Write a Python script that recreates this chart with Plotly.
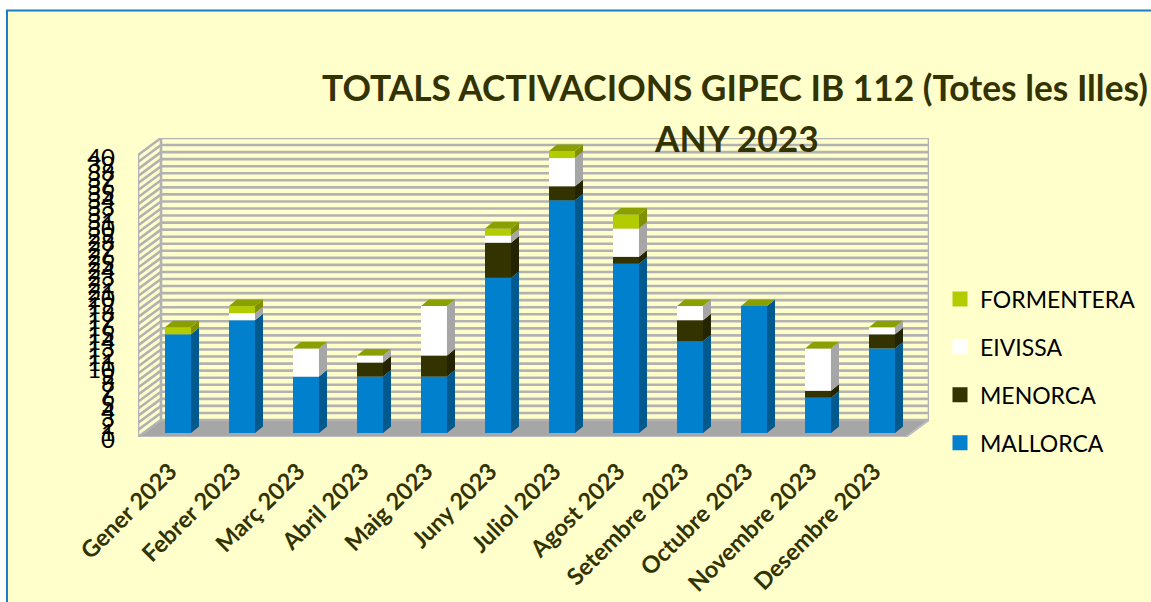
import plotly.graph_objects as go

months = ["Gener 2023", "Febrer 2023", "Març 2023", "Abril 2023", "Maig 2023", "Juny 2023",
          "Juliol 2023", "Agost 2023", "Setembre 2023", "Octubre 2023", "Novembre 2023", "Desembre 2023"]
mallorca = [14, 16, 8, 8, 8, 22, 33, 24, 13, 18, 5, 12]
menorca = [0, 0, 0, 2, 3, 5, 2, 1, 3, 0, 1, 2]
eivissa = [0, 1, 4, 1, 7, 1, 4, 4, 2, 0, 6, 1]
formentera = [1, 1, 0, 0, 0, 1, 1, 2, 0, 0, 0, 0]
y_ticks = list(range(0, 41))

series = [
    ("MALLORCA", mallorca, "#0180CE", "#005A8F"),
    ("MENORCA", menorca, "#333300", "#242400"),
    ("EIVISSA", eivissa, "#FFFFFF", "#A6A6A6"),
    ("FORMENTERA", formentera, "#B3CC00", "#7F9000"),
]
TOP_COLOR = "#8AA000"
GRID = "#B2B2B2"
BG = "#FFFFCC"
FONT = "Lato"
TEXT = "#333300"

# page layout in pixels
W, H = 1151, 602
L, R, T, B = 138, 222, 138, 165
PW, PH = W - L - R, H - T - B
PX_X = 64.0
PX_Y = 7.05
# oblique projection of the 3D box, in axis units
WALL_DX, WALL_DY = 23 / PX_X, 17 / PX_Y
BAR_W = 26 / PX_X
BAR_SHIFT = 8 / PX_X
BAR_BASE = 4 / PX_Y
BAR_DX, BAR_DY = 8 / PX_X, 6.5 / PX_Y
X0, X1 = -0.5, len(months) - 0.5
LABEL_SHIFT = 0 / PX_X


def px(x):
    return (x - L) / PW


def py(y):
    return 1 - (y - T) / PH


def path(points):
    xs, ys = [], []
    for a, b in points:
        xs.append(a)
        ys.append(b)
    xs.append(None)
    ys.append(None)
    return xs, ys


fig = go.Figure()

# floor
fig.add_trace(go.Scatter(
    x=[X0, X1, X1 + WALL_DX, X0 + WALL_DX, X0], y=[0, 0, WALL_DY, WALL_DY, 0],
    mode="lines", fill="toself", fillcolor="#A6A6A6", line=dict(color="#BDBDBD", width=2),
    showlegend=False, hoverinfo="skip", cliponaxis=False, zorder=0))

# walls and gridlines
gx, gy = [], []
for v in y_ticks:
    a, b = path([(X0, v), (X0 + WALL_DX, v + WALL_DY), (X1 + WALL_DX, v + WALL_DY)])
    gx += a
    gy += b
for xv, y0, y1 in [(X0, 0, 40), (X0 + WALL_DX, WALL_DY, 40 + WALL_DY), (X1 + WALL_DX, WALL_DY, 40 + WALL_DY)]:
    a, b = path([(xv, y0), (xv, y1)])
    gx += a
    gy += b
fig.add_trace(go.Scatter(x=gx, y=gy, mode="lines", line=dict(color=GRID, width=2.6),
                         showlegend=False, hoverinfo="skip", cliponaxis=False, zorder=1))

# stacked fronts (real bars), side faces and tops derived from the same values
cum = [0] * len(months)
for name, vals, front, side in series:
    fig.add_trace(go.Bar(
        x=[i + BAR_SHIFT for i in range(len(months))], y=vals,
        base=[c + BAR_BASE for c in cum], width=BAR_W,
        marker=dict(color=front, line=dict(width=0)), name=name, showlegend=False, zorder=2))
    sx, sy = [], []
    for i, v in enumerate(vals):
        if v == 0:
            continue
        xr = i + BAR_SHIFT + BAR_W / 2
        b0 = cum[i] + BAR_BASE
        a, b = path([(xr, b0), (xr + BAR_DX, b0 + BAR_DY), (xr + BAR_DX, b0 + v + BAR_DY), (xr, b0 + v), (xr, b0)])
        sx += a
        sy += b
    fig.add_trace(go.Scatter(x=sx, y=sy, mode="lines", fill="toself", fillcolor=side, line=dict(width=0),
                             showlegend=False, hoverinfo="skip", zorder=3))
    cum = [c + v for c, v in zip(cum, vals)]

tx, ty = [], []
for i, c in enumerate(cum):
    xl = i + BAR_SHIFT - BAR_W / 2
    top = c + BAR_BASE
    a, b = path([(xl, top), (xl + BAR_W, top), (xl + BAR_W + BAR_DX, top + BAR_DY), (xl + BAR_DX, top + BAR_DY), (xl, top)])
    tx += a
    ty += b
fig.add_trace(go.Scatter(x=tx, y=ty, mode="lines", fill="toself", fillcolor=TOP_COLOR, line=dict(width=0),
                         showlegend=False, hoverinfo="skip", zorder=3))

# legend entries
for name, vals, front, side in reversed(series):
    fig.add_trace(go.Scatter(x=[None], y=[None], mode="markers", name=name, legendgroup=name,
                             marker=dict(symbol="square", size=15, color=front)))

fig.update_layout(
    width=W, height=H, margin=dict(l=L, r=R, t=T, b=B, autoexpand=False),
    paper_bgcolor="#FFFFFF", plot_bgcolor="rgba(0,0,0,0)", barmode="overlay",
    font=dict(family=FONT, color="#000000"),
    title=dict(text="<b>TOTALS ACTIVACIONS GIPEC IB 112 (Totes les Illes)</b>",
               font=dict(family=FONT, size=35.3, color=TEXT),
               x=735 / W, xanchor="center", y=1 - 89 / H, yanchor="middle"),
    annotations=[dict(text="<b>ANY 2023</b>", xref="paper", yref="paper", x=px(736), y=py(138),
                      xanchor="center", yanchor="middle", showarrow=False,
                      font=dict(family=FONT, size=35.3, color=TEXT))],
    xaxis=dict(range=[X0, X1 + WALL_DX], tickmode="array", tickvals=[i + LABEL_SHIFT for i in range(len(months))],
               ticktext=months, tickangle=-45, showgrid=False, zeroline=False, showline=False, ticks="",
               tickfont=dict(family=FONT, size=23.5, color=TEXT, weight="bold"), ticklabelstandoff=15),
    yaxis=dict(range=[0, 40 + WALL_DY], tickmode="array", tickvals=y_ticks, ticktext=[str(v) for v in y_ticks],
               showgrid=False, zeroline=False, showline=False, ticks="",
               tickfont=dict(family=FONT, size=24, color="#000000"), ticklabelstandoff=22, ticklabelshift=3),
    legend=dict(x=px(940), y=py(277.5), xanchor="left", yanchor="top", bgcolor="rgba(0,0,0,0)",
                font=dict(family=FONT, size=23, color="#000000"), tracegroupgap=15,
                itemsizing="trace", itemclick=False, itemdoubleclick=False),
    shapes=[dict(type="rect", xref="paper", yref="paper", x0=px(7), y0=py(10.5), x1=px(W + 20), y1=py(H + 20),
                 fillcolor=BG, line=dict(color="#1B7FC4", width=2), layer="below")],
    showlegend=True,
)

fig.write_html("out.html", config={"displayModeBar": False, "responsive": False},
               post_script="document.body.style.margin='0';")
